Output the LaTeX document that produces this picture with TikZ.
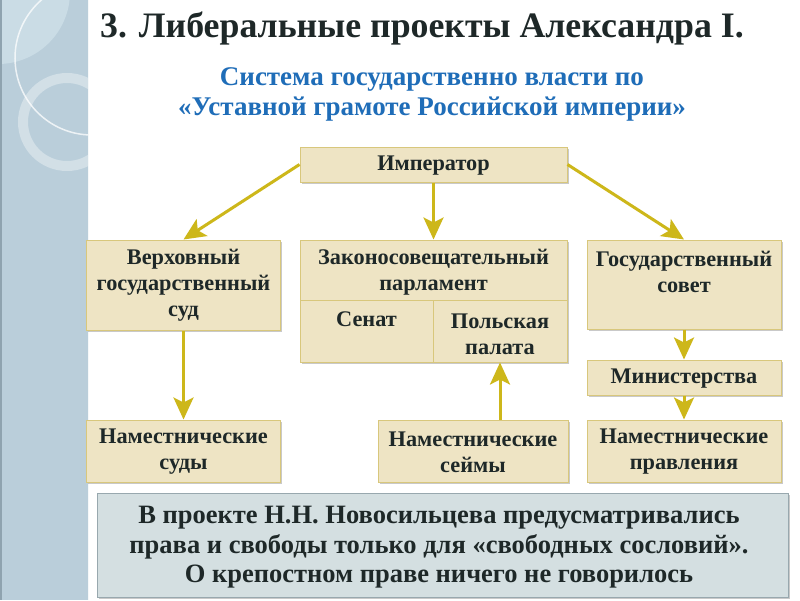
\documentclass[tikz,border=0pt]{standalone}
\usepackage{fontspec}
\setmainfont{Liberation Serif}
\usetikzlibrary{arrows.meta,shadows}
\definecolor{side}{HTML}{BACEDA}
\definecolor{sidelight}{HTML}{CADCE5}
\definecolor{sideedge}{HTML}{8FA3AF}
\definecolor{boxfill}{HTML}{EEE4C4}
\definecolor{boxline}{HTML}{D8C77C}
\definecolor{txt}{HTML}{1E2828}
\definecolor{subblue}{HTML}{1F6DB8}
\definecolor{arr}{HTML}{CDB71A}
\definecolor{notefill}{HTML}{D4DFE1}
\definecolor{noteline}{HTML}{98A8AE}
\tikzset{
  box/.style={draw=boxline, fill=boxfill, line width=1pt, inner sep=0pt,
    drop shadow={shadow xshift=1.5pt, shadow yshift=-1.5pt, opacity=.35, fill=black!60}},
  cell/.style={draw=boxline, fill=boxfill, line width=1pt, inner sep=0pt},
  btext/.style={text=txt, font=\bfseries\fontsize{22.3}{26}\selectfont, align=center, inner sep=0pt},
  conn/.style={draw=arr, line width=3pt, -{Stealth[length=22pt,width=20pt,inset=5pt]}},
}
\begin{document}
\begin{tikzpicture}[x=1pt,y=-1pt]
\useasboundingbox (0,0) rectangle (800,600);
\fill[white] (0,0) rectangle (800,600);
% sidebar
\fill[side] (0,0) rectangle (88,600);
\begin{scope}
\clip (0,0) rectangle (88,600);
\fill[sidelight] (-2,-8) circle (72pt);
\draw[white,opacity=.75,line width=1.5pt] (92,58) circle (77pt);
\draw[white,opacity=.35,line width=10pt] (67,122) circle (44pt);
\end{scope}
\fill[sideedge] (0,0) rectangle (2,600);
\draw[white!85!side,line width=1pt] (88,0) -- (88,600);
% titles
\node[anchor=base west, inner sep=0pt, text=txt, font=\bfseries\fontsize{35.8}{40}\selectfont] (title) at (100,37) {3. Либеральные проекты Александра I.};
\node[align=center, inner sep=0pt, text=subblue, font=\bfseries\fontsize{27}{30}\selectfont] (sub) at (432,94) {Система государственно власти по\\«Уставной грамоте Российской империи»};
% boxes
\node[box, minimum width=267pt, minimum height=35pt] (imp) at (433.5,164.5) {};
\node[btext] (impT) at (433.5,165.5) {Император};
\node[box, minimum width=194pt, minimum height=90pt] (verh) at (183.5,285) {};
\node[btext] (verhT) at (183.5,285) {Верховный\\государственный\\суд};
\node[box, minimum width=267pt, minimum height=122pt] (zak) at (433.5,301) {};
\node[cell, minimum width=267pt, minimum height=60pt] (zakTop) at (433.5,270) {};
\node[cell, minimum width=133pt, minimum height=62pt] (senat) at (366.5,331) {};
\node[cell, minimum width=134pt, minimum height=62pt] (polsk) at (500,331) {};
\node[btext] (zakT) at (433.5,272) {Законосовещательный\\парламент};
\node[btext] (senatT) at (366.5,319) {Сенат};
\node[btext] (polskT) at (500,334) {Польская\\палата};
\node[box, minimum width=194pt, minimum height=89pt] (gos) at (684,284.5) {};
\node[btext] (gosT) at (684,272) {Государственный\\совет};
\node[box, minimum width=194pt, minimum height=35pt] (min) at (684,377.5) {};
\node[btext] (minT) at (684,378.5) {Министерства};
\node[box, minimum width=194pt, minimum height=62pt] (nsud) at (183.5,451) {};
\node[btext] (nsudT) at (183.5,452) {Наместнические\\суды};
\node[box, minimum width=190pt, minimum height=62pt] (nseim) at (473,451) {};
\node[btext] (nseimT) at (473,452) {Наместнические\\сеймы};
\node[box, minimum width=194pt, minimum height=62pt] (npr) at (684,451) {};
\node[btext] (nprT) at (684,452) {Наместнические\\правления};
% note
\node[draw=noteline, fill=notefill, line width=1pt, minimum width=691pt, minimum height=104pt,
  drop shadow={shadow xshift=1.5pt, shadow yshift=-1.5pt, opacity=.35, fill=black!60}] (note) at (442.5,545) {};
\node[align=center, inner sep=0pt, text=txt, font=\bfseries\fontsize{26.5}{29.5}\selectfont] (noteT) at (439,547.5) {В проекте Н.Н. Новосильцева предусматривались\\права и свободы только для «свободных сословий».\\О крепостном праве ничего не говорилось};
% connectors
\draw[conn] (imp.west) -- (verh.north);
\draw[conn] (imp.south) -- (zak.north);
\draw[conn] (imp.east) -- (gos.north);
\draw[conn] (verh.south) -- (nsud.north);
\draw[conn] (nseim.north -| polsk.south) -- (polsk.south);
\draw[conn] (gos.south) -- (min.north);
\draw[conn] (min.south) -- (npr.north);
\end{tikzpicture}
\end{document}
